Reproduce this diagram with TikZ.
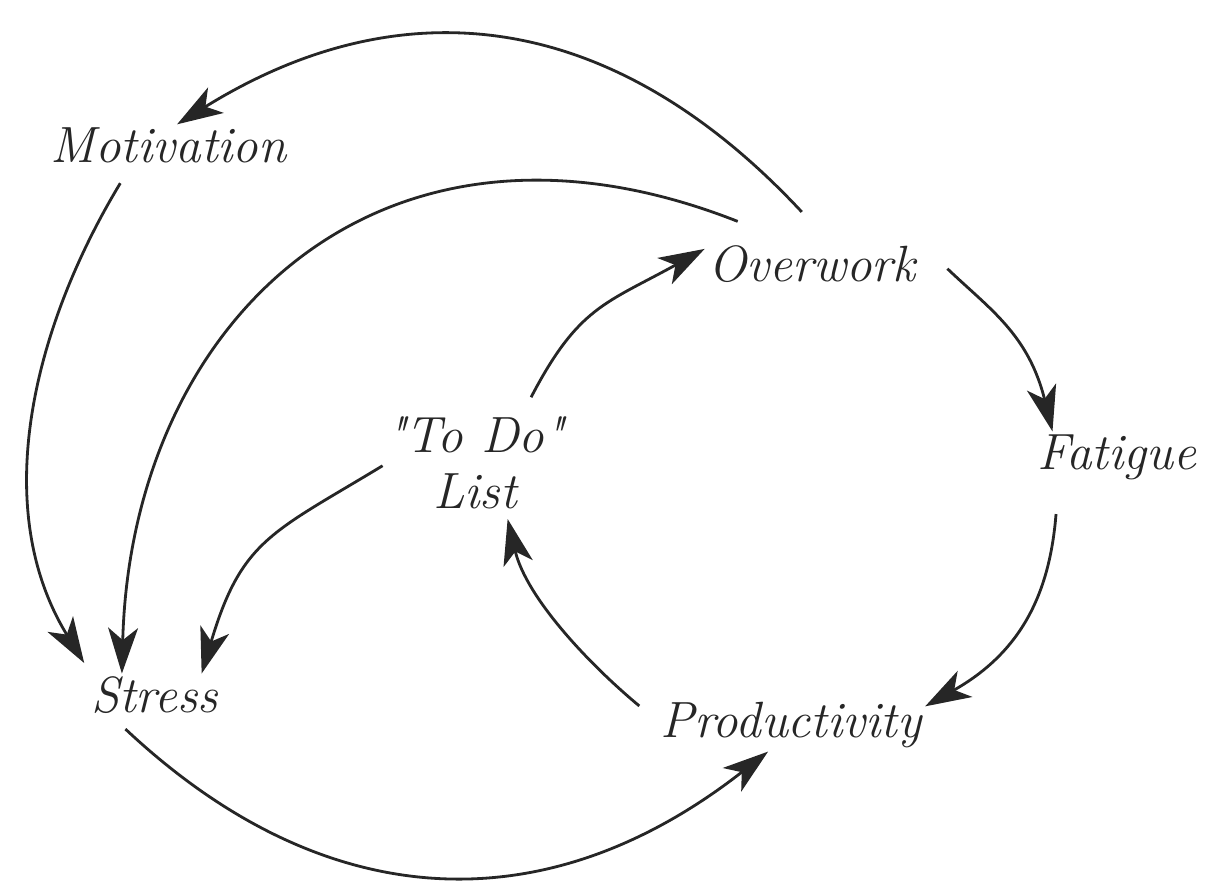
\documentclass[tikz,border=0pt]{standalone}
\usetikzlibrary{arrows.meta}
\definecolor{ink}{HTML}{262626}
% straight double quote, passed by the tex-text mapping
\newcommand\dq{\XeTeXglyph\XeTeXcharglyph"22\relax}

\begin{document}
\begin{tikzpicture}[
    var/.style={font=\fontsize{14.5}{15.9}\selectfont\itshape, text=ink, inner sep=1pt, outer sep=0pt, align=center},
    link/.style={draw=ink, line width=0.8pt, -{Stealth[length=13pt, width=8.5pt, inset=3.5pt]}},
]
\useasboundingbox (0,0) rectangle (12.10,8.85);

% the variables
\node[var] (mot)    at (1.685, 7.395) {Motivation};
\node[var] (over)   at (8.12, 6.21)   {Overwork};
\node[var] (fat)    at (11.17, 4.275) {Fatigue};
\node[var] (todo)   at (4.75, 4.225)  {\dq To Do\dq\\List};
\node[var] (stress) at (1.545, 1.895) {Stress};
\node[var] (prod)   at (7.91, 1.598)  {Productivity};

% ---------------- the outer arcs
\draw[link, shorten <=11.7pt] (over.51) .. controls +(-2.19,2.35) and +(2.23,1.385) .. (mot.68);
\draw[link, shorten <=16pt] (over.135) .. controls +(-4.11,1.62) and +(0.09,3.515) .. (stress.146);
\draw[link, shorten <=5.5pt, shorten >=3.5pt] (mot.209) .. controls +(-0.962,-1.59) and +(-1.024,1.668) .. (stress.161);
\draw[link] (todo.182) .. controls +(-1.11,-0.673) and +(0.399,1.338) .. (stress.25);

% ---------------- the inner loop
\draw[link, shorten <=5pt] (todo.46) .. controls +(0.554,1.064) and +(-0.985,-0.545) .. (over.172);
\draw[link, shorten <=11pt] (over.north east) .. controls +(0.706,-0.673) and +(-0.239,0.969) .. (fat.158);
\draw[link, shorten <=8.7pt] (fat.204) .. controls +(-0.087,-1.088) and +(0.969,0.546) .. (prod.8);
\draw[link, shorten <=6.5pt, shorten >=2pt] (prod.178) .. controls +(-0.657,0.545) and +(0.204,-0.865) .. (todo.302);

% stress back round the bottom
\draw[link, shorten <=4.8pt] (stress.208) .. controls +(2.086,-1.96) and +(-2.259,-1.766) .. (prod.229);
\end{tikzpicture}
\end{document}
